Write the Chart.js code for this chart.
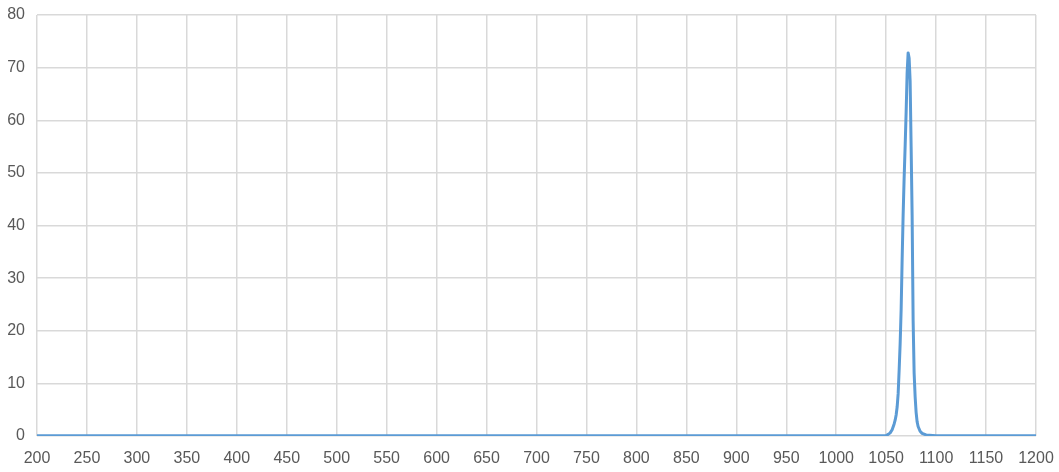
<!DOCTYPE html>
<html>
<head>
<meta charset="utf-8">
<script src="https://cdn.jsdelivr.net/npm/chart.js@4/dist/chart.umd.min.js"></script>
<style>
html,body{margin:0;padding:0;background:#fff;}
#wrap{width:1059px;height:472px;}
</style>
</head>
<body>
<div id="wrap"><canvas id="c" width="1059" height="472"></canvas></div>
<script>
// Wavelength (nm) and intensity
const wavelengths = [200, 300, 400, 500, 600, 700, 800, 900, 1000, 1040, 1050, 1052, 1054, 1056, 1058, 1059, 1060, 1061, 1062, 1063, 1064, 1065, 1066, 1067, 1068, 1069, 1070, 1071, 1072, 1073, 1074, 1075, 1076, 1077, 1078, 1079, 1080, 1081, 1082, 1084, 1086, 1090, 1100, 1150, 1200];
const intensity   = [0.05, 0.05, 0.05, 0.05, 0.05, 0.05, 0.05, 0.05, 0.05, 0.05, 0.1, 0.3, 0.6, 1.2, 2.3, 3.0, 4.0, 5.5, 8.0, 12.5, 17.5, 24, 33.5, 42, 49, 55, 61.5, 69, 72.8, 71.8, 67.5, 55, 42, 22, 12, 7.5, 4.5, 2.7, 1.8, 0.9, 0.5, 0.2, 0.05, 0.05, 0.05];
const xTicks = [200, 250, 300, 350, 400, 450, 500, 550, 600, 650, 700, 750, 800, 850, 900, 950, 1000, 1050, 1100, 1150, 1200];
const yTicks = [0, 10, 20, 30, 40, 50, 60, 70, 80];

const points = wavelengths.map((w, i) => ({x: w, y: intensity[i]}));

new Chart(document.getElementById('c'), {
  type: 'scatter',
  data: {
    datasets: [{
      data: points,
      showLine: true,
      borderColor: '#5b9bd5',
      borderWidth: 3,
      borderJoinStyle: 'round',
      pointRadius: 0,
      tension: 0,
      fill: false
    }]
  },
  options: {
    responsive: false,
    animation: false,
    layout: {autoPadding: false, padding: {left: 0, right: 23, top: 15, bottom: 0}},
    plugins: {legend: {display: false}, tooltip: {enabled: false}},
    scales: {
      x: {
        type: 'linear',
        min: xTicks[0], max: xTicks[xTicks.length - 1],
        afterBuildTicks: s => { s.ticks = xTicks.map(v => ({value: v})); },
        afterFit: s => { s.height = 36; s.paddingLeft = 0; s.paddingRight = 0; s.paddingTop = 0; s.paddingBottom = 0; },
        grid: {color: '#d9d9d9', lineWidth: 1.5, drawTicks: false},
        border: {display: false},
        ticks: {color: '#595959', font: {family: 'Liberation Sans', size: 16}, padding: 13, maxRotation: 0, autoSkip: false,
                callback: v => String(v)}
      },
      y: {
        min: yTicks[0], max: yTicks[yTicks.length - 1],
        afterBuildTicks: s => { s.ticks = yTicks.map(v => ({value: v})); },
        afterFit: s => { s.width = 37; s.paddingLeft = 0; s.paddingRight = 0; s.paddingTop = 0; s.paddingBottom = 0; },
        grid: {color: '#d9d9d9', lineWidth: 1.5, drawTicks: false},
        border: {display: false},
        ticks: {color: '#595959', font: {family: 'Liberation Sans', size: 16}, padding: 12,
                callback: v => String(v)}
      }
    }
  }
});
</script>
</body>
</html>
